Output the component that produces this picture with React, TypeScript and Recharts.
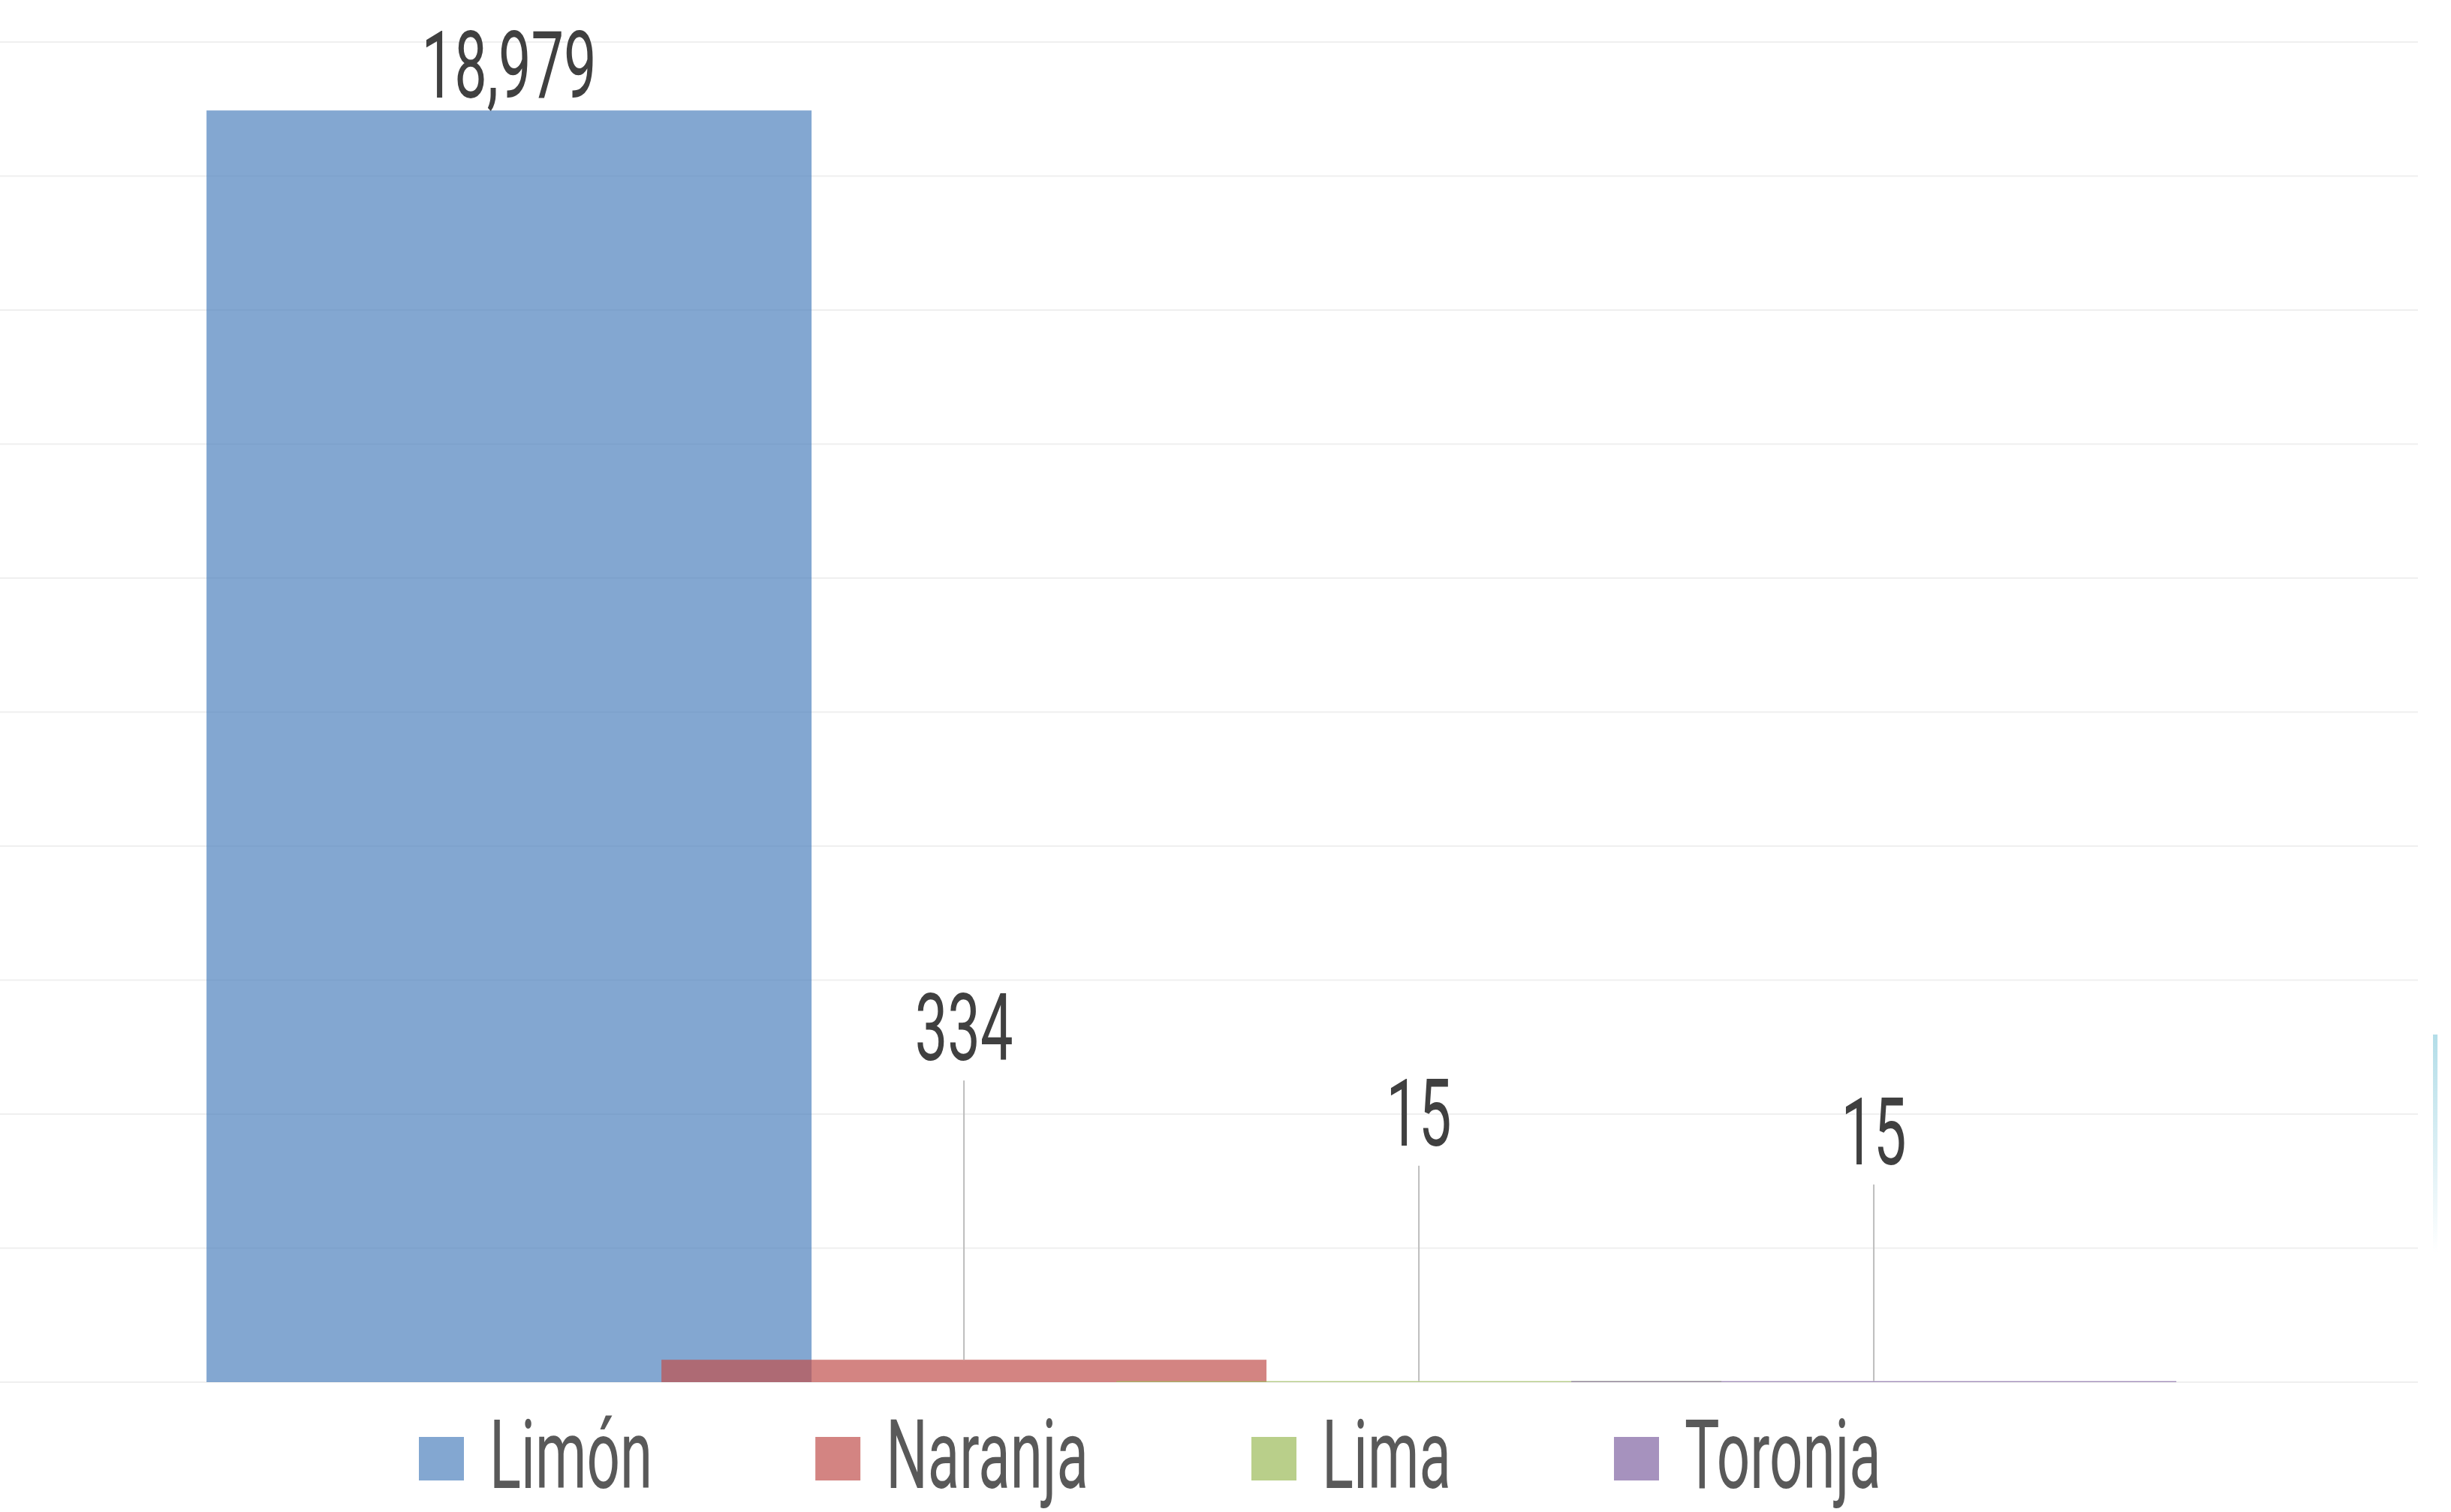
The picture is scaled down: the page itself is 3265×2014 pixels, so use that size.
import React from "react";
import { BarChart, Bar, XAxis, YAxis, CartesianGrid, Cell, LabelList, Legend } from "recharts";

const categories = ["Limón", "Naranja", "Lima", "Toronja"];
const values = [18979, 334, 15, 15];
const colors = ["#4F81BD", "#C0504D", "#9BBB59", "#8064A2"];
const yTicks = [0, 2000, 4000, 6000, 8000, 10000, 12000, 14000, 16000, 18000, 20000];

const data = categories.map((name, i) => ({ name, value: values[i] }));

const W = 3265;
const H = 2014;
const BAR_W = 806;
const FONT = "Roboto, 'DejaVu Sans', sans-serif";
// leader line lengths over the small bars (first one sits right on its bar)
const LEADER = [0, 372, 287, 262];
const LEG_FS = 128;

function WideBar(props: any) {
  const { x, y, width, height, fill } = props;
  const cx = x + width / 2;
  return <rect x={cx - BAR_W / 2} y={y} width={BAR_W} height={Math.max(height, 0)} fill={fill} fillOpacity={0.7} />;
}

function ValueLabel(props: any) {
  const vb = props.viewBox || props;
  const { x, y, width } = vb;
  const cx = x + width / 2;
  const lead = LEADER[props.index] || 0;
  const base = lead ? y - lead - 27 : y - 17;
  return (
    <g>
      {lead ? <line x1={cx} x2={cx} y1={y} y2={y - lead} stroke="#BDBDBD" strokeWidth={2} /> : null}
      <text transform={`translate(${cx},${base}) scale(0.62,1)`} textAnchor="middle" fontFamily={FONT} fontSize={125} fill="#404040">
        {Number(props.value).toLocaleString("en-US")}
      </text>
    </g>
  );
}

function measure(text: string, size: number) {
  const c = document.createElement("canvas").getContext("2d");
  if (!c) return text.length * size * 0.5;
  c.font = `${size}px Roboto`;
  return c.measureText(text).width;
}

function LegendRow() {
  let x = 558;
  const sx = 0.61;
  const items = categories.map((name, i) => {
    const tw = measure(name, LEG_FS) * sx;
    const it = { name, color: colors[i], x, tx: x + 94 };
    x = it.tx + tw + 217;
    return it;
  });
  return (
    <svg width={W} height={170} style={{ display: "block" }}>
      {items.map((it) => (
        <g key={it.name}>
          <rect x={it.x} y={70} width={60} height={58} fill={it.color} fillOpacity={0.7} />
          <text transform={`translate(${it.tx},138) scale(${sx},1)`} fontFamily={FONT} fontSize={LEG_FS} fill="#595959">{it.name}</text>
        </g>
      ))}
    </svg>
  );
}

export default function App() {
  return (
    <div style={{ position: "absolute", left: 0, top: 0, width: W, height: H, background: "#fff", overflow: "hidden" }}>
      <BarChart width={W} height={H} data={data} margin={{ top: 56, right: 44, left: 0, bottom: 3 }}>
        <CartesianGrid vertical={false} stroke="#EFEFEF" strokeWidth={2} />
        <XAxis dataKey="name" hide padding={{ left: 375, right: 422 }} />
        <YAxis hide domain={[0, 20000]} ticks={yTicks} />
        <Legend content={() => <LegendRow />} wrapperStyle={{ top: 1844, left: 0, width: W, height: 170 }} />
        <Bar dataKey="value" shape={WideBar} isAnimationActive={false}>
          {data.map((d, i) => <Cell key={d.name} fill={colors[i]} />)}
          <LabelList dataKey="value" content={ValueLabel} />
        </Bar>
      </BarChart>
      <div style={{ position: "absolute", left: 3241, top: 1378, width: 6, height: 290, background: "linear-gradient(#B3DDE8, rgba(255,255,255,0))" }} />
    </div>
  );
}
